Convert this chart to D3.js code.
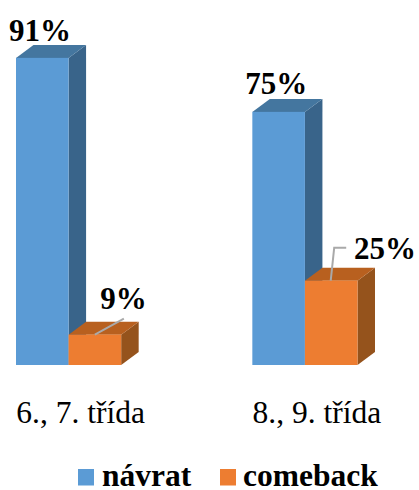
<!DOCTYPE html>
<html>
<head>
<meta charset="utf-8">
<script src="https://cdn.jsdelivr.net/npm/d3@7"></script>
<style>
  html, body { margin: 0; padding: 0; background: #fff; }
  svg { display: block; font-family: "Liberation Serif", serif; }
</style>
</head>
<body>
<div id="chart"></div>
<script>
const categories = ['6., 7. třída', '8., 9. třída'];
const seriesNames = ['návrat', 'comeback'];
const navrat = [91, 75];
const comeback = [9, 25];
const seriesValues = [navrat, comeback];

const width = 419;
const height = 490;
const baseY = 365;
const depthX = 17.5;
const depthY = 13;

const colors = [
  { front: '#5b9bd5', top: '#44769f', side: '#39648a' },
  { front: '#ed7d31', top: '#b8601f', side: '#95531c' }
];

const svg = d3.select('#chart').append('svg').attr('width', width).attr('height', height);

const x0 = d3.scaleBand().domain(categories).range([16, 357.5]).paddingInner(0.555);
const x1 = d3.scaleBand().domain(seriesNames).range([0, x0.bandwidth()]);
const y = d3.scaleLinear().domain([0, 100]).range([baseY, baseY - 337.5]);

// blue first so the orange block sits in front of its side face
seriesNames.forEach((name, s) => {
  const c = colors[s];
  const g = svg.append('g').attr('class', 'series');
  categories.forEach((cat, i) => {
    const v = seriesValues[s][i];
    const left = x0(cat) + x1(name);
    const right = left + x1.bandwidth();
    const top = y(v);
    const path = (pts) => d3.line()(pts) + 'Z';

    g.append('path').attr('fill', c.side)
      .attr('d', path([[right, top], [right + depthX, top - depthY], [right + depthX, baseY - depthY], [right, baseY]]));
    g.append('path').attr('fill', c.top)
      .attr('d', path([[left, top], [left + depthX, top - depthY], [right + depthX, top - depthY], [right, top]]));
    g.append('rect').attr('x', left).attr('y', top)
      .attr('width', x1.bandwidth()).attr('height', baseY - top)
      .attr('fill', c.front);
  });
});

// leader lines for the two orange labels
const leaderColor = '#a9a9a9';
const orange0 = x0(categories[0]) + x1(seriesNames[1]) + x1.bandwidth() / 2;
const orange1 = x0(categories[1]) + x1(seriesNames[1]) + x1.bandwidth() / 2;
svg.append('path').attr('fill', 'none').attr('stroke', leaderColor).attr('stroke-width', 2)
  .attr('d', d3.line()([[orange0, y(comeback[0])], [orange0 + 29, y(comeback[0]) - 16]]));
svg.append('path').attr('fill', 'none').attr('stroke', leaderColor).attr('stroke-width', 2)
  .attr('d', d3.line()([[orange1 - 0.5, y(comeback[1])], [orange1 + 3, y(comeback[1]) - 33], [orange1 + 15, y(comeback[1]) - 33]]));

// value labels, placed by hand as in the original
const labelDx = [[24, 24], [55, 80]];
const labelDy = [[-17, -18], [-26, -22]];
seriesNames.forEach((name, s) => {
  categories.forEach((cat, i) => {
    const v = seriesValues[s][i];
    svg.append('text')
      .attr('x', x0(cat) + x1(name) + labelDx[s][i])
      .attr('y', y(v) + labelDy[s][i])
      .attr('text-anchor', 'middle')
      .attr('font-size', 31)
      .attr('font-weight', 700)
      .attr('fill', '#000')
      .text(v + '%');
  });
});

// category axis, labels only
const axis = svg.append('g')
  .attr('transform', `translate(12,${baseY})`)
  .call(d3.axisBottom(x0).tickSize(0).tickPadding(36));
axis.select('.domain').remove();
axis.selectAll('text')
  .attr('font-family', '"Liberation Serif", serif')
  .attr('font-size', 31.5)
  .attr('fill', '#000');

// legend
const legendX = [78, 220];
const legendTextX = [102, 243];
seriesNames.forEach((name, s) => {
  svg.append('rect').attr('x', legendX[s]).attr('y', 469).attr('width', 16).attr('height', 16.5).attr('fill', colors[s].front);
  svg.append('text').attr('x', legendTextX[s]).attr('y', 486)
    .attr('font-size', 31.5).attr('font-weight', 700).attr('fill', '#000').text(name);
});
</script>
</body>
</html>
